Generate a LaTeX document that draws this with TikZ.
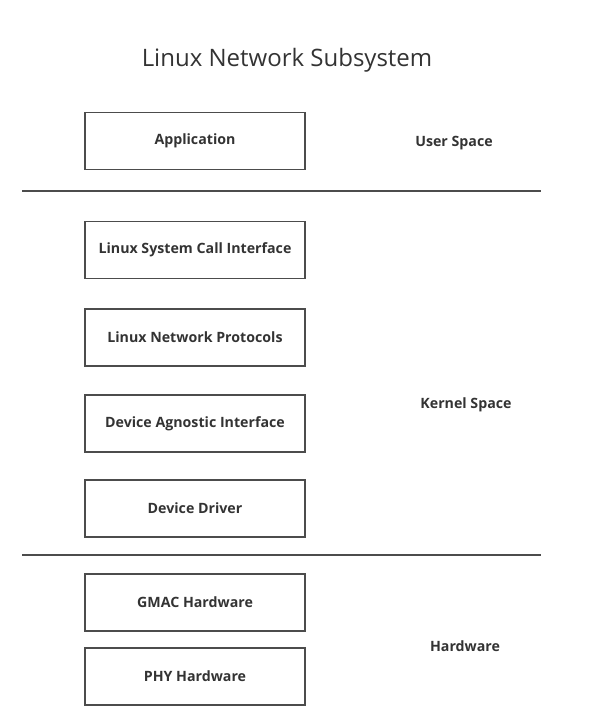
\documentclass[tikz,border=0pt]{standalone}
\usepackage{fontspec}
\setmainfont{Open Sans}
\begin{document}
\begin{tikzpicture}[x=1pt,y=-1pt,
  layerbox/.style={draw=black!70,line width=1.2pt,minimum width=220pt,minimum height=57pt,inner sep=0pt,font=\bfseries\fontsize{14.2}{16}\selectfont,text=black!80},
  zonelabel/.style={font=\bfseries\fontsize{14.2}{16}\selectfont,text=black!80},
  sep/.style={draw=black!70,line width=1.2pt}]
\useasboundingbox (0,0) rectangle (591,720);
\node[font=\fontsize{24}{28}\selectfont,text=black!80] (title) at (287,60) {Linux Network Subsystem};
\node[layerbox] (app) at (195,141) {Application};
\node[layerbox] (sci) at (195,250) {Linux System Call Interface};
\node[layerbox] (lnp) at (195,337.5) {Linux Network Protocols};
\node[layerbox] (dai) at (195,423.5) {Device Agnostic Interface};
\node[layerbox] (dd) at (195,508.5) {Device Driver};
\node[layerbox] (gmac) at (195,602.5) {GMAC Hardware};
\node[layerbox] (phy) at (195,676.5) {PHY Hardware};
\node[zonelabel] (us) at (454,143) {User Space};
\node[zonelabel] (ks) at (466,405) {Kernel Space};
\node[zonelabel] (hw) at (465,646) {Hardware};
\coordinate (l1a) at (22,191); \coordinate (l1b) at (541,191);
\coordinate (l2a) at (22,555); \coordinate (l2b) at (541,555);
\draw[sep] (l1a) -- (l1b);
\draw[sep] (l2a) -- (l2b);
\end{tikzpicture}
\end{document}
